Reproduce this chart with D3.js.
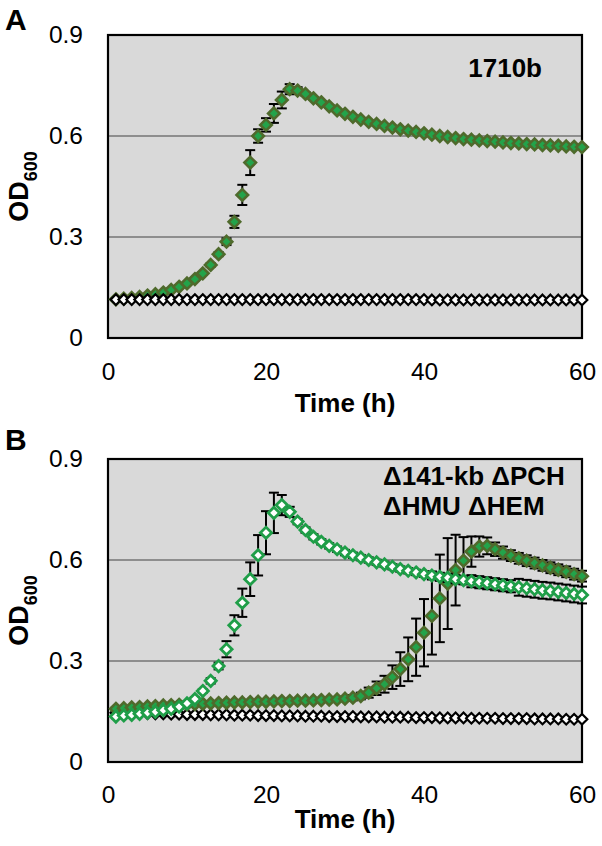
<!DOCTYPE html>
<html><head><meta charset="utf-8">
<script src="https://cdn.jsdelivr.net/npm/d3@7/dist/d3.min.js"></script>
<style>html,body{margin:0;padding:0;background:#fff;}svg{display:block;}</style>
</head><body>
<svg id="chart" width="602" height="846"></svg>
<script>
// ---------- data ----------
const times = [1,2,3,4,5,6,7,8,9,10,11,12,13,14,15,16,17,18,19,20,21,22,23,24,25,26,27,28,29,30,
  31,32,33,34,35,36,37,38,39,40,41,42,43,44,45,46,47,48,49,50,51,52,53,54,55,56,57,58,59,60];
const xTicks = [0,20,40,60];
const yTicks = [0,0.3,0.6,0.9];
const yTickLabels = ["0","0.3","0.6","0.9"];

// Panel A: 1710b
const aStrain = [0.115,0.117,0.119,0.122,0.126,0.130,0.135,0.143,0.152,0.162,
  0.175,0.192,0.217,0.249,0.286,0.345,0.425,0.521,0.600,0.633,
  0.667,0.707,0.739,0.735,0.725,0.712,0.700,0.688,0.676,0.666,
  0.657,0.649,0.642,0.636,0.630,0.625,0.620,0.616,0.612,0.608,
  0.604,0.600,0.597,0.594,0.591,0.589,0.587,0.585,0.583,0.581,
  0.579,0.578,0.576,0.575,0.573,0.572,0.571,0.569,0.568,0.567];
const aStrainErr = [0.004,0.004,0.004,0.004,0.004,0.004,0.004,0.004,0.004,0.004,
  0.004,0.004,0.005,0.006,0.010,0.018,0.030,0.037,0.020,0.020,
  0.028,0.025,0.015,0.010,0.005,0.004,0.004,0.004,0.004,0.004,
  0.004,0.004,0.004,0.004,0.004,0.004,0.004,0.004,0.004,0.004,
  0.004,0.004,0.004,0.004,0.004,0.004,0.004,0.004,0.004,0.004,
  0.004,0.004,0.004,0.004,0.004,0.004,0.004,0.004,0.004,0.004];
const aBlank = [0.114,0.114,0.114,0.114,0.114,0.114,0.114,0.114,0.114,0.114,
  0.114,0.114,0.114,0.114,0.114,0.114,0.114,0.114,0.114,0.114,
  0.114,0.114,0.114,0.114,0.114,0.114,0.114,0.114,0.114,0.114,
  0.114,0.114,0.114,0.114,0.114,0.114,0.114,0.114,0.114,0.114,
  0.113,0.113,0.113,0.113,0.113,0.113,0.113,0.113,0.113,0.113,
  0.113,0.113,0.113,0.113,0.113,0.113,0.113,0.113,0.113,0.113];

// Panel B: mutant
const bBlank = [0.146,0.145,0.145,0.144,0.144,0.143,0.143,0.142,0.142,0.141,
  0.141,0.141,0.140,0.140,0.140,0.139,0.139,0.139,0.138,0.138,
  0.138,0.137,0.137,0.137,0.136,0.136,0.136,0.135,0.135,0.135,
  0.135,0.134,0.134,0.134,0.133,0.133,0.133,0.133,0.132,0.132,
  0.132,0.131,0.131,0.131,0.131,0.130,0.130,0.130,0.130,0.129,
  0.129,0.129,0.129,0.128,0.128,0.128,0.128,0.127,0.127,0.127];
const bFilled = [0.158,0.160,0.162,0.163,0.165,0.166,0.168,0.169,0.170,0.171,
  0.172,0.173,0.174,0.175,0.176,0.177,0.177,0.178,0.179,0.179,
  0.180,0.181,0.181,0.182,0.182,0.183,0.184,0.185,0.186,0.188,
  0.191,0.196,0.206,0.219,0.231,0.252,0.276,0.305,0.341,0.384,
  0.434,0.486,0.530,0.570,0.598,0.625,0.640,0.642,0.632,0.622,
  0.613,0.605,0.598,0.591,0.584,0.577,0.571,0.565,0.558,0.552];
const bFilledErr = [0.005,0.005,0.005,0.005,0.005,0.005,0.005,0.005,0.005,0.005,
  0.005,0.005,0.005,0.005,0.005,0.005,0.005,0.005,0.005,0.005,
  0.005,0.005,0.005,0.005,0.005,0.005,0.005,0.005,0.005,0.006,
  0.008,0.010,0.015,0.020,0.025,0.035,0.050,0.065,0.085,0.100,
  0.115,0.130,0.135,0.105,0.070,0.045,0.030,0.025,0.020,0.018,
  0.016,0.016,0.016,0.016,0.016,0.016,0.016,0.016,0.016,0.016];
const bOpen = [0.135,0.138,0.140,0.143,0.146,0.149,0.154,0.158,0.164,0.174,
  0.187,0.211,0.241,0.285,0.335,0.406,0.473,0.543,0.614,0.681,
  0.740,0.763,0.743,0.714,0.689,0.669,0.654,0.642,0.632,0.622,
  0.614,0.607,0.600,0.593,0.587,0.580,0.573,0.568,0.563,0.558,
  0.554,0.550,0.547,0.543,0.540,0.537,0.534,0.531,0.528,0.525,
  0.522,0.519,0.516,0.513,0.510,0.508,0.505,0.502,0.499,0.496];
const bOpenErr = [0.005,0.005,0.005,0.005,0.005,0.005,0.005,0.005,0.005,0.005,
  0.005,0.005,0.008,0.010,0.024,0.030,0.042,0.050,0.060,0.064,
  0.060,0.030,0.015,0.008,0.008,0.008,0.008,0.008,0.008,0.008,
  0.008,0.008,0.008,0.008,0.008,0.008,0.008,0.008,0.008,0.008,
  0.012,0.012,0.012,0.012,0.012,0.018,0.018,0.018,0.018,0.018,
  0.018,0.025,0.025,0.025,0.025,0.025,0.025,0.025,0.025,0.025];

const panelLabels = ["A","B"];
const annotA = ["1710b"];
const annotB = ["\u0394141-kb \u0394PCH","\u0394HMU \u0394HEM"];

// ---------- drawing ----------
const svg = d3.select("#chart");
const FONT = "'Liberation Sans', Arial, Helvetica, sans-serif";
const x = d3.scaleLinear().domain([0,60]).range([108,582]);

const GREEN_FILL = "#23a34a", OLIVE = "#4f6a2c", GREEN_OPEN = "#1f9e48";

function diamond(r){ return `M0,${-r}L${r},0L0,${r}L${-r},0Z`; }

function panel(top, bottom, label, labelY, series, timeBase, annot, annotX, annotY, annotAnchor, xPad){
  const y = d3.scaleLinear().domain([0,0.9]).range([bottom, top]);
  const g = svg.append("g");
  g.append("rect").attr("x",x(0)).attr("y",y(0.9)).attr("width",x(60)-x(0)).attr("height",y(0)-y(0.9))
    .attr("fill","#d9d9d9");
  g.selectAll("line.grid").data([0.3,0.6]).enter().append("line")
    .attr("x1",x(0)).attr("x2",x(60)).attr("y1",d=>y(d)).attr("y2",d=>y(d))
    .attr("stroke","#8e8e8e").attr("stroke-width",2);
  g.append("rect").attr("x",x(0)).attr("y",y(0.9)).attr("width",x(60)-x(0)).attr("height",y(0)-y(0.9))
    .attr("fill","none").attr("stroke","#000").attr("stroke-width",2.2);

  // axes
  const ya = d3.axisLeft(y).tickValues(yTicks).tickSize(0).tickPadding(25)
    .tickFormat((d,i)=>yTickLabels[i]);
  const yg = g.append("g").attr("transform",`translate(${x(0)},0)`).call(ya);
  yg.select(".domain").remove();
  yg.selectAll("text").attr("font-family",FONT).attr("font-size",24.5).attr("fill","#000");
  const xa = d3.axisBottom(x).tickValues(xTicks).tickSize(0).tickPadding(xPad);
  const xg = g.append("g").attr("transform",`translate(0,${y(0)})`).call(xa);
  xg.select(".domain").remove();
  xg.selectAll("text").attr("font-family",FONT).attr("font-size",24.5).attr("fill","#000");

  // labels
  g.append("text").attr("x",5).attr("y",labelY).text(label)
    .attr("font-family",FONT).attr("font-weight","bold").attr("font-size",30);
  const od = g.append("text").attr("transform",`translate(28,${(top+bottom)/2}) rotate(-90)`)
    .attr("text-anchor","middle").attr("font-family",FONT).attr("font-weight","bold").attr("font-size",27);
  od.append("tspan").text("OD");
  od.append("tspan").attr("font-size",18).attr("dy",9).text("600");
  g.append("text").attr("x",x(30)).attr("y",timeBase).attr("text-anchor","middle")
    .attr("font-family",FONT).attr("font-weight","bold").attr("font-size",26).text("Time (h)");
  annot.forEach((t,i)=>{
    g.append("text").attr("x",annotX).attr("y",annotY+i*30).attr("text-anchor",annotAnchor)
      .attr("font-family",FONT).attr("font-weight","bold").attr("font-size",26).text(t);
  });

  // series
  series.forEach(s=>{
    const sg = g.append("g");
    if (s.err){
      const eb = sg.selectAll("g.eb").data(times.map((t,i)=>({t, v:s.values[i], e:s.err[i]}))).enter().append("g");
      eb.append("line").attr("x1",d=>x(d.t)).attr("x2",d=>x(d.t))
        .attr("y1",d=>y(d.v-d.e)).attr("y2",d=>y(d.v+d.e)).attr("stroke","#000").attr("stroke-width",2);
      [-1,1].forEach(sgn=>{
        eb.append("line").attr("x1",d=>x(d.t)-5).attr("x2",d=>x(d.t)+5)
          .attr("y1",d=>y(d.v+sgn*d.e)).attr("y2",d=>y(d.v+sgn*d.e)).attr("stroke","#000").attr("stroke-width",2);
      });
    }
    sg.selectAll("path").data(times.map((t,i)=>({t, v:s.values[i]}))).enter().append("path")
      .attr("d",diamond(s.r)).attr("transform",d=>`translate(${x(d.t)},${y(d.v)})`)
      .attr("fill",s.fill).attr("stroke",s.stroke).attr("stroke-width",s.sw);
  });
}

panel(35, 338, panelLabels[0], 30, [
  {values:aStrain, err:aStrainErr, fill:GREEN_FILL, stroke:OLIVE, sw:2.6, r:5.8},
  {values:aBlank, err:null, fill:"#fff", stroke:"#000", sw:2.2, r:5.3}
], 412, annotA, 542, 77, "end", 25);

panel(459, 762, panelLabels[1], 450, [
  {values:bBlank, err:null, fill:"#fff", stroke:"#000", sw:2.2, r:5.3},
  {values:bFilled, err:bFilledErr, fill:GREEN_FILL, stroke:OLIVE, sw:2.6, r:5.8},
  {values:bOpen, err:bOpenErr, fill:"#fff", stroke:GREEN_OPEN, sw:2.8, r:5.6}
], 828, annotB, 383, 485, "start", 24);
</script>
</body></html>
